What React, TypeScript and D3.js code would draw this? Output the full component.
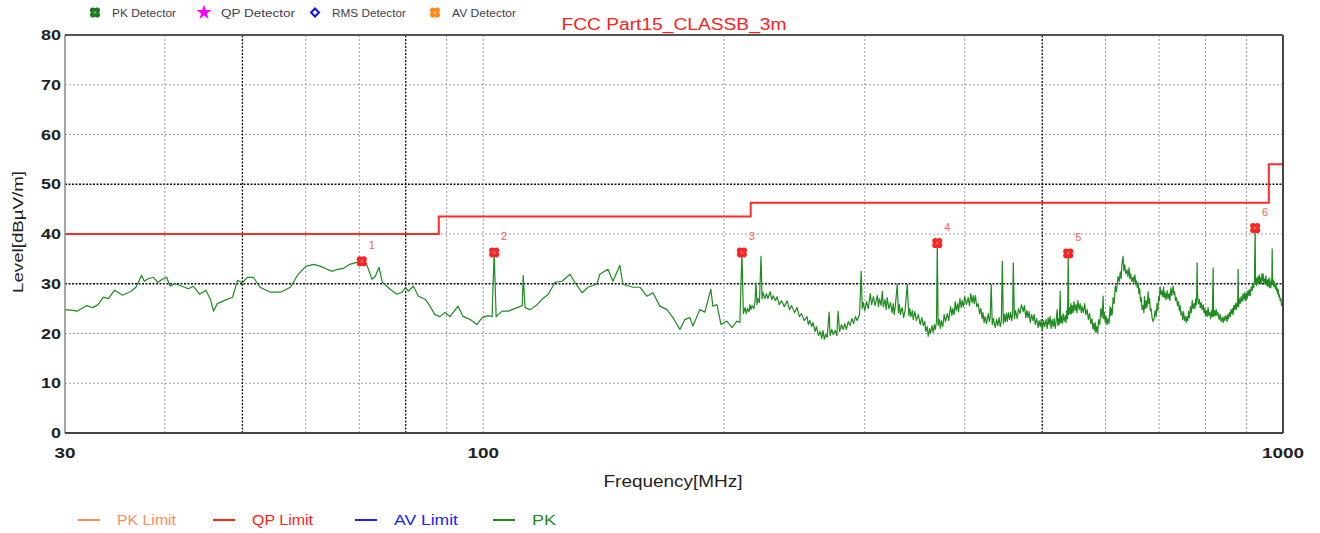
import React from "react";
import * as d3 from "d3";

// PK trace, [frequency MHz, level dBµV/m]
const pkTrace: [number, number][] = [
  [30.0, 24.8], [30.5, 24.7], [31.1, 24.5], [31.9, 25.6], [32.5, 25.2], [33.0, 25.8], [33.5, 27.3], [34.0, 27.0],
  [34.6, 28.7], [35.4, 27.7], [36.3, 28.5], [36.8, 29.3], [37.4, 31.7], [37.7, 30.5], [38.1, 31.0], [38.7, 31.3],
  [39.2, 30.3], [39.7, 30.9], [40.2, 31.3], [40.6, 29.5], [41.2, 30.0], [42.0, 29.5], [42.8, 29.0], [43.4, 29.5],
  [44.2, 27.9], [45.0, 28.7], [45.6, 26.9], [46.0, 24.5], [46.5, 26.0], [47.6, 26.7], [48.6, 27.3], [49.3, 30.7],
  [50.0, 30.2], [50.7, 31.3], [51.6, 31.3], [52.6, 29.3], [54.2, 28.3], [55.8, 28.3], [57.4, 29.3], [58.7, 31.9],
  [60.0, 33.5], [61.4, 33.9], [62.6, 33.5], [63.8, 32.9], [64.8, 32.5], [65.7, 32.9], [66.9, 33.1], [68.1, 33.9],
  [69.1, 34.2], [70.5, 34.5], [71.5, 33.9], [72.6, 30.9], [73.3, 31.5], [74.1, 33.3], [74.8, 30.3], [76.5, 28.9],
  [78.0, 27.9], [79.2, 28.3], [80.0, 29.3], [80.6, 28.5], [81.8, 29.5], [83.0, 27.5], [84.6, 26.9], [85.8, 25.5],
  [87.0, 23.8], [88.3, 23.4], [89.5, 24.2], [90.9, 23.4], [93.0, 25.5], [94.3, 23.5], [96.3, 22.8], [98.2, 21.8],
  [99.7, 23.2], [101.4, 23.6], [102.6, 23.4], [103.2, 36.3], [103.8, 23.4], [105.6, 24.5], [107.5, 24.5], [110.3, 25.2],
  [111.9, 25.6], [112.2, 31.7], [112.8, 25.2], [114.5, 24.8], [116.8, 25.8], [118.5, 26.9], [120.6, 27.9], [123.0, 30.3],
  [125.5, 30.5], [128.4, 31.9], [130.3, 30.2], [132.9, 28.2], [135.2, 29.3], [138.7, 29.9], [139.9, 31.9], [143.2, 32.9],
  [145.3, 30.5], [148.2, 33.7], [149.5, 29.9], [153.9, 29.3], [157.0, 29.3], [160.2, 27.5], [163.0, 28.2], [166.3, 25.5],
  [169.7, 24.8], [172.7, 23.2], [176.2, 20.8], [178.7, 22.8], [181.3, 23.2], [182.9, 21.5], [186.6, 24.8], [189.3, 24.3],
  [192.6, 28.9], [193.7, 25.5], [196.0, 25.8], [198.3, 21.8], [201.7, 22.5], [204.7, 21.2], [207.6, 22.5], [209.4, 22.2],
  [210.6, 36.3], [211.5, 24.0], [212.5, 25.2], [213.3, 24.0], [214, 25.0], [215, 24.4], [215.5, 25.8], [216.2, 24.8],
  [216.8, 25.6], [218, 25.0], [218.7, 26.4], [219.3, 30.2], [220, 25.8], [220.6, 27.0], [221.5, 26.2], [222.5, 35.5],
  [223.2, 27.0], [223.8, 28.2], [225, 27.0], [226, 28.0], [227, 27.0], [228.4, 28.4], [229.5, 26.8], [230.5, 27.6],
  [232, 26.6], [233, 27.4], [234.5, 25.8], [236, 26.6], [238, 25.4], [239.8, 26.6], [241.5, 24.8], [243, 25.6],
  [245, 24.2], [246.8, 25.2], [248.5, 23.4], [250, 24.0], [252, 22.6], [254.1, 23.4], [255, 21.8], [256, 22.6],
  [257.5, 21.4], [258.5, 22.2], [260, 20.4], [261, 21.4], [262.5, 19.6], [263.8, 20.4], [265, 19.0], [266, 20.6],
  [267, 18.8], [268, 19.8], [269.2, 19.2], [270.7, 24.3], [271.5, 19.6], [272.8, 20.8], [273.9, 19.8], [275.5, 20.6],
  [276.8, 19.6], [277.8, 24.5], [279, 20.4], [280.5, 21.8], [281.9, 20.8], [283.2, 22.0], [284.5, 20.8], [286, 22.4],
  [287.6, 21.6], [289, 23.0], [290.5, 22.0], [292, 23.4], [293.5, 22.6], [295.5, 23.8], [296.9, 32.5], [297.8, 25.0],
  [298.7, 26.2], [300, 24.6], [301.5, 26.4], [303, 25.0], [304.8, 28.0], [306, 25.8], [307.5, 27.4], [309, 25.6],
  [311, 27.6], [312, 25.4], [313, 27.0], [314.5, 25.6], [315.5, 28.5], [316.5, 25.4], [318, 26.8], [319, 24.8],
  [320, 27.2], [321.5, 25.0], [323, 26.2], [324.5, 24.2], [325.6, 26.0], [326.5, 23.8], [327.5, 25.4], [329.4, 29.9],
  [330.5, 24.2], [331.5, 25.8], [332.3, 23.8], [334, 25.2], [335.5, 23.2], [337, 24.8], [339.0, 29.9], [340.5, 23.6],
  [341.5, 25.0], [342.5, 23.4], [344, 24.6], [344.9, 22.8], [346.5, 24.4], [348, 22.6], [350, 23.8], [351.9, 21.8],
  [353.5, 23.2], [355, 21.6], [356.5, 22.4], [357.5, 20.4], [359, 21.4], [360.1, 19.4], [361.5, 21.0], [362.5, 20.0],
  [364, 21.6], [365.3, 20.2], [366.5, 21.8], [367.5, 20.8], [368.8, 22.4], [369.6, 38.2], [370.5, 21.6], [371.7, 22.8],
  [373, 21.0], [374, 22.6], [375.5, 21.4], [377, 23.8], [378.5, 22.4], [380.4, 24.0], [382, 22.6], [384, 25.4],
  [385.5, 23.6], [386.5, 25.0], [388, 23.8], [389.2, 26.4], [390.5, 24.6], [392, 26.0], [393, 24.4], [394.5, 27.0],
  [396, 25.2], [397.1, 26.6], [398.5, 25.4], [400, 27.4], [402, 25.8], [404, 27.2], [405.5, 25.6], [407, 28.0],
  [408.5, 26.2], [409.9, 27.6], [411, 26.0], [412.5, 27.6], [414, 25.4], [415.8, 26.0], [417.5, 24.0], [419, 25.0],
  [420.5, 23.0], [421.5, 24.2], [423, 22.2], [424.3, 23.4], [426, 22.0], [428, 24.0], [429.5, 22.4], [430.5, 23.4],
  [431.7, 29.9], [433, 21.8], [434.5, 23.0], [436.7, 21.2], [438.5, 22.8], [440, 21.6], [441.5, 23.2], [443.1, 21.4],
  [444.5, 22.6], [445.7, 34.5], [447, 22.0], [448.5, 23.8], [449.5, 22.4], [451, 24.0], [452, 22.4], [453.5, 24.2],
  [455, 22.8], [456.5, 24.2], [458, 22.6], [459.2, 24.0], [460, 34.2], [461.5, 23.0], [463, 24.6], [465.3, 23.0],
  [467, 25.0], [469, 24.0], [471, 25.8], [473.4, 24.4], [475, 25.6], [477, 23.2], [478.5, 24.6], [480, 23.2],
  [481.5, 24.4], [483, 22.2], [485, 23.8], [487, 22.6], [488.5, 23.8], [490, 21.8], [492, 23.0], [494, 21.2],
  [495.5, 22.6], [497.1, 21.4], [498.5, 22.8], [500, 20.6], [502, 22.6], [503.5, 21.4], [505.5, 22.8], [507.2, 21.0],
  [508.5, 23.2], [510, 21.8], [511.5, 23.4], [513, 21.0], [514.5, 22.8], [516, 21.4], [517.5, 23.0], [519, 21.0],
  [520.5, 22.6], [522, 24.8], [523, 21.6], [524, 23.0], [525.2, 21.8], [526.5, 28.5], [527.2, 22.2], [528, 23.6],
  [529.5, 22.0], [531, 24.0], [532.5, 22.4], [534.2, 23.6], [535.5, 22.2], [536.5, 24.6], [537.8, 23.0], [538.8, 36.1],
  [539.7, 23.8], [540.5, 25.2], [542, 24.0], [543, 26.0], [544, 24.0], [545, 25.6], [546.5, 24.2], [548, 26.4],
  [549.5, 24.6], [551, 25.8], [552.5, 24.2], [554, 26.6], [556, 24.8], [557.7, 26.0], [559.5, 24.2], [561, 25.4],
  [563, 24.2], [565, 26.0], [567, 23.8], [569, 24.8], [571, 22.8], [573, 24.0], [575, 22.0], [577, 23.0],
  [578.5, 21.0], [580, 22.0], [581, 20.6], [582.3, 22.2], [583.5, 20.2], [585, 21.4], [586.5, 20.0], [588, 22.8],
  [590, 21.8], [592, 25.0], [594, 23.2], [595.8, 27.5], [596.8, 23.0], [598, 24.2], [599.5, 22.2], [601, 23.4],
  [602.5, 21.8], [604.4, 23.0], [606, 22.0], [608, 25.4], [609, 23.6], [610, 25.0], [611.5, 23.8], [613.1, 27.2],
  [615, 26.0], [617, 29.6], [619, 28.4], [622, 31.5], [624, 30.4], [626, 32.4], [627.5, 31.0], [629, 34.0],
  [631, 35.5], [632.5, 32.6], [634, 33.8], [636, 32.0], [638.3, 32.8], [640, 31.4], [642, 33.2], [643.5, 31.0],
  [645, 32.0], [647, 30.4], [649.5, 31.4], [651, 30.2], [653, 31.8], [654.5, 29.8], [656, 30.6], [657.5, 29.2],
  [659, 30.2], [660.5, 28.0], [662, 29.0], [663.5, 26.4], [665, 27.2], [666.5, 24.8], [668.5, 25.6], [670, 24.2],
  [671, 27.4], [672.5, 25.0], [674, 26.6], [676, 25.2], [678.2, 28.4], [679.5, 26.0], [681, 27.0], [682.5, 24.6],
  [684, 25.0], [686, 23.2], [688, 22.4], [690, 23.0], [692, 24.6], [694, 23.4], [696, 26.0], [697.5, 24.6],
  [699, 27.4], [700.5, 26.6], [702, 29.4], [704, 27.8], [706, 28.6], [707.5, 27.4], [709, 29.4], [710.5, 27.2],
  [712, 28.2], [714, 26.8], [716.3, 28.6], [718, 27.0], [720, 28.0], [722, 26.6], [724, 29.2], [726, 27.6],
  [728.8, 29.6], [730.5, 27.8], [732, 28.4], [734, 26.6], [736, 27.2], [738, 25.6], [740, 26.4], [742, 24.6],
  [743.6, 25.6], [745.5, 23.8], [747, 24.4], [749, 22.8], [751, 24.4], [753, 22.6], [755, 23.4], [757, 22.2],
  [758.7, 23.4], [760.5, 22.6], [762, 24.4], [764, 23.2], [766, 25.4], [768, 24.2], [770, 26.6], [772, 25.0],
  [774, 26.0], [776, 25.0], [778, 27.0], [779.5, 25.8], [781, 34.2], [782, 27.5], [784, 26.0], [786, 26.8],
  [788, 25.2], [790, 26.2], [792, 24.8], [794.6, 25.8], [796.5, 24.2], [798, 25.0], [800, 23.6], [802, 24.6],
  [804, 23.4], [806, 25.2], [808, 23.6], [810, 24.2], [812, 23.0], [814, 24.6], [816, 23.4], [817.8, 33.2],
  [819, 23.4], [821, 24.6], [823, 23.6], [825, 24.8], [827.2, 23.6], [829.5, 24.2], [832, 22.8], [834.5, 23.8],
  [837, 22.4], [839.5, 23.2], [842, 22.2], [844, 23.4], [846, 22.6], [848.5, 23.6], [851.3, 22.4], [853, 23.8],
  [855, 23.0], [857, 24.2], [859, 23.4], [861, 24.8], [863, 24.0], [864.5, 25.0], [866.2, 23.8], [868, 25.6],
  [870, 24.8], [872, 26.0], [874, 24.8], [876, 26.2], [877.5, 25.4], [878.8, 32.9], [880, 25.4], [882, 27.0],
  [884, 26.0], [886.5, 27.4], [889, 26.4], [891.5, 28.0], [894, 26.8], [896, 28.2], [898, 26.6], [900, 28.0],
  [901.9, 27.0], [904, 28.6], [906, 27.6], [908, 28.8], [910, 27.6], [912.5, 29.4], [915, 28.6], [917, 30.0],
  [919, 29.2], [921, 30.4], [923, 41.2], [924, 30.0], [925, 31.0], [926.5, 29.6], [928, 31.2], [929.5, 30.0],
  [931, 31.4], [932.5, 30.2], [934, 31.8], [936, 30.0], [938, 31.2], [939.5, 30.0], [941, 32.0], [942.5, 30.6],
  [944.4, 32.0], [946, 30.2], [948, 31.0], [950, 29.8], [952, 31.6], [953.5, 29.8], [955, 30.8], [956.5, 29.4],
  [958.2, 30.8], [959.5, 29.6], [961, 31.2], [962.5, 29.2], [964, 30.4], [965.5, 29.2], [967, 31.0], [968.3, 29.8],
  [969.3, 37.0], [970.5, 29.8], [972, 30.8], [974, 29.4], [976, 30.4], [978, 29.0], [980, 29.8], [981.5, 28.6],
  [983, 29.2], [984.5, 28.0], [986.2, 28.8], [988, 27.4], [990, 27.8], [992, 26.6], [994, 27.0], [996, 25.6],
  [997.6, 26.0], [1000, 25.4],
];

// QP limit steps, as drawn
const limitFreq = [30, 88, 216, 960, 1000];
const limitLevel = [40, 43.5, 46.3, 54, 54];

const markerFreq = [70.5, 103.2, 210.6, 369.6, 538.8, 923];
const markerLevel = [34.5, 36.3, 36.3, 38.2, 36.1, 41.2];

const yTicks = [0, 10, 20, 30, 40, 50, 60, 70, 80];
const yGrid = [10, 20, 30, 40, 50, 60, 70];
const yMajor = [30, 50];
const xGrid = [40, 50, 60, 70, 80, 90, 100, 200, 300, 400, 500, 600, 700, 800, 900];
const xMajor = [50, 80, 500];
const xTickLabels = [30, 100, 1000];

const topLegend = ["PK Detector", "QP Detector", "RMS Detector", "AV Detector"];
const bottomLegend = ["PK Limit", "QP Limit", "AV Limit", "PK"];

const font = "'Liberation Sans', Arial, sans-serif";

const x = d3.scaleLog().domain([30, 1000]).range([65, 1283]);
const y = d3.scaleLinear().domain([0, 80]).range([433, 35]);

// clover-like marker used by the detector symbols
const Clover = ({ cx, cy, fill }: { cx: number; cy: number; fill: string }) => (
  <g transform={`translate(${cx},${cy})`}>
    {[[-2.2, -2.2], [2.2, -2.2], [-2.2, 2.2], [2.2, 2.2]].map(([dx, dy], i) => (
      <circle key={i} cx={dx} cy={dy} r={2.8} fill={fill} />
    ))}
    <path d="M-1.6,-1.6L1.6,1.6M1.6,-1.6L-1.6,1.6" stroke="#fff" strokeWidth={0.7} opacity={0.6} />
  </g>
);

export default function App() {
  const traceLine = d3
    .line<[number, number]>()
    .x((d) => x(d[0]))
    .y((d) => y(d[1]));

  const limitLine = d3
    .line<number>()
    .curve(d3.curveStepAfter)
    .x((d, i) => x(limitFreq[i]))
    .y((d) => y(d));

  const topX = [95, 204, 315, 435];
  const topColors = ["#1a7a1a", "#ff00ff", "#1010ee", "#ff8a1a"];
  const botX = [78, 213, 355, 493];
  const botColors = ["#ff8c5a", "#ff2020", "#2020ff", "#1e8c1e"];
  const botWidths = [59, 61, 64, 24];
  const topWidths = [64, 74, 74, 64];

  return (
    <svg
      width={1320}
      height={533}
      style={{ position: "absolute", left: 0, top: 0, background: "#fff" }}
      fontFamily={font}
    >
      {/* grid */}
      {yGrid.map((v) => {
        const major = yMajor.includes(v);
        return (
          <line
            key={"gy" + v}
            x1={x(30)}
            x2={x(1000)}
            y1={y(v)}
            y2={y(v)}
            stroke={major ? "#111" : "#9a9a9a"}
            strokeWidth={major ? 1.3 : 1}
            strokeDasharray={major ? "2,1.5" : "2,2"}
          />
        );
      })}
      {xGrid.map((v) => {
        const major = xMajor.includes(v);
        return (
          <line
            key={"gx" + v}
            x1={x(v)}
            x2={x(v)}
            y1={y(0)}
            y2={y(80)}
            stroke={major ? "#111" : "#9a9a9a"}
            strokeWidth={major ? 1.3 : 1}
            strokeDasharray={major ? "2,1.5" : "2,2"}
          />
        );
      })}

      {/* QP limit */}
      <path d={limitLine(limitLevel) || ""} fill="none" stroke="#ff2a2a" strokeWidth={2} />

      {/* PK trace */}
      <path d={traceLine(pkTrace) || ""} fill="none" stroke="#1e8c1e" strokeWidth={1.2} strokeLinejoin="round" />

      {/* markers */}
      {markerFreq.map((f, i) => (
        <g key={"m" + i}>
          <Clover cx={x(f)} cy={y(markerLevel[i])} fill="#ff2020" />
          <text x={x(f) + 10} y={y(markerLevel[i]) - 12} fontSize={11} fill="#ff6060" textAnchor="middle">
            {i + 1}
          </text>
        </g>
      ))}

      {/* frame */}
      <line x1={65} x2={65} y1={35} y2={433} stroke="#888" strokeWidth={1.5} />
      <line x1={1283} x2={1283} y1={35} y2={433} stroke="#444" strokeWidth={2} />
      <line x1={65} x2={1283} y1={35} y2={35} stroke="#555" strokeWidth={2} />
      <line x1={65} x2={1283} y1={433} y2={433} stroke="#444" strokeWidth={2} />

      {/* y ticks */}
      {yTicks.map((v) => (
        <text
          key={"yt" + v}
          x={61}
          y={y(v) + 5}
          textAnchor="end"
          fontSize={15}
          fontWeight="bold"
          fill="#222"
          textLength={v === 0 ? 10 : 20}
          lengthAdjust="spacingAndGlyphs"
        >
          {v}
        </text>
      ))}
      {xTickLabels.map((v) => (
        <text
          key={"xt" + v}
          x={x(v)}
          y={458}
          textAnchor="middle"
          fontSize={15}
          fontWeight="bold"
          fill="#222"
          textLength={String(v).length * 10.5}
          lengthAdjust="spacingAndGlyphs"
        >
          {v}
        </text>
      ))}

      <text
        transform="translate(23,232) rotate(-90)"
        textAnchor="middle"
        fontSize={15}
        fill="#222"
        textLength={122}
        lengthAdjust="spacingAndGlyphs"
      >
        Level[dBµV/m]
      </text>
      <text
        x={673}
        y={487}
        textAnchor="middle"
        fontSize={16}
        fill="#222"
        textLength={139}
        lengthAdjust="spacingAndGlyphs"
      >
        Frequency[MHz]
      </text>

      {/* title */}
      <text
        x={674}
        y={30}
        textAnchor="middle"
        fontSize={16}
        fill="#ff2020"
        textLength={225}
        lengthAdjust="spacingAndGlyphs"
      >
        FCC Part15_CLASSB_3m
      </text>

      {/* top legend */}
      {topLegend.map((name, i) => (
        <g key={"tl" + i}>
          {i === 0 || i === 3 ? (
            <Clover cx={topX[i]} cy={12.5} fill={topColors[i]} />
          ) : i === 1 ? (
            <path
              transform={`translate(${topX[i]},12.5)`}
              d={d3.symbol().type(d3.symbolStar).size(70)() || ""}
              fill={topColors[i]}
            />
          ) : (
            <path
              transform={`translate(${topX[i]},12.5)`}
              d={d3.symbol().type(d3.symbolDiamond2).size(40)() || ""}
              fill="#fff"
              stroke={topColors[i]}
              strokeWidth={2}
            />
          )}
          <text
            x={topX[i] + 17}
            y={16.5}
            fontSize={11}
            fill="#3c3c50"
            textLength={topWidths[i]}
            lengthAdjust="spacingAndGlyphs"
          >
            {name}
          </text>
        </g>
      ))}

      {/* bottom legend */}
      {bottomLegend.map((name, i) => (
        <g key={"bl" + i}>
          <line x1={botX[i]} x2={botX[i] + 22} y1={520} y2={520} stroke={botColors[i]} strokeWidth={2} />
          <text
            x={botX[i] + 39}
            y={525}
            fontSize={14}
            fill={botColors[i]}
            textLength={botWidths[i]}
            lengthAdjust="spacingAndGlyphs"
          >
            {name}
          </text>
        </g>
      ))}
    </svg>
  );
}
